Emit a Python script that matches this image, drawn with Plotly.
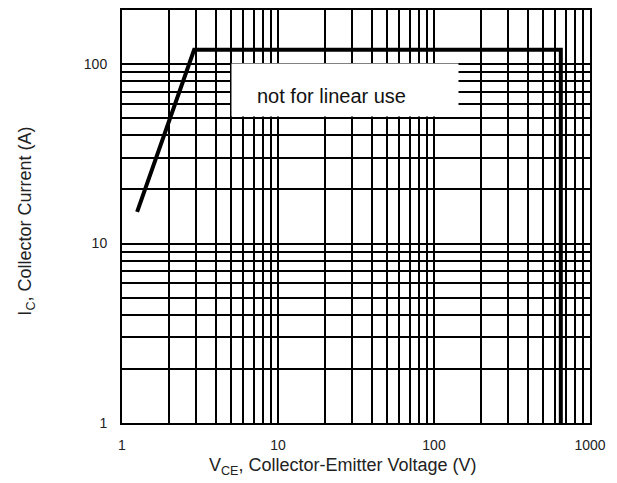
import plotly.graph_objects as go
import numpy as np

# SOA boundary
vce = [1.25, 2.9, 650, 650]
ic = [15, 120, 120, 1]

x_tick_labels = ["1", "10", "100", "1000"]
y_tick_labels = ["1", "10", "100"]

# gridline positions (1..9 per decade)
x_grid = [m * 10 ** d for d in range(3) for m in range(1, 10)] + [1000]
x_text = [str(v) if str(v) in x_tick_labels else "" for v in x_grid]
y_grid = [m * 10 ** d for d in range(2) for m in range(1, 10)] + [100]
y_text = [str(v) if str(v) in y_tick_labels else "" for v in y_grid]

FONT = "Liberation Sans, Arial, sans-serif"

fig = go.Figure()
fig.add_trace(go.Scatter(x=vce, y=ic, mode="lines",
                         line=dict(color="black", width=4),
                         showlegend=False, hoverinfo="skip"))

# white box behind the note
fig.add_annotation(x=np.log10(27), y=np.log10(71.6), xref="x", yref="y",
                   text=" ", showarrow=False, bgcolor="white",
                   width=226, height=52, borderpad=0)
fig.add_annotation(x=np.log10(22.1), y=np.log10(66.3), xref="x", yref="y",
                   text="not for linear use", showarrow=False,
                   font=dict(family=FONT, size=20, color="#111"))

# axis titles
fig.add_annotation(x=0.472, y=-0.105, xref="paper", yref="paper",
                   xanchor="center", yanchor="middle", showarrow=False,
                   text="V<sub>CE</sub>, Collector-Emitter Voltage (V)",
                   font=dict(family=FONT, size=18, color="#222"))
fig.add_annotation(x=-0.203, y=0.49, xref="paper", yref="paper",
                   xanchor="center", yanchor="middle", showarrow=False,
                   textangle=-90,
                   text="I<sub>C</sub>, Collector Current (A)",
                   font=dict(family=FONT, size=18, color="#222"))

axis_common = dict(type="log", showgrid=True, gridcolor="black", gridwidth=2,
                   showline=True, linecolor="black", linewidth=2, mirror=True,
                   ticks="", zeroline=False,
                   tickfont=dict(family=FONT, size=14, color="#222"))

fig.update_xaxes(range=[0, 3], tickvals=x_grid, ticktext=x_text,
                 ticklabelstandoff=8, **axis_common)
fig.update_yaxes(range=[0, np.log10(200)], tickvals=y_grid, ticktext=y_text,
                 ticklabelstandoff=10, **axis_common)

# page body adds an 8px margin; compensate so the plot area lands at 122..590 x 10..423
fig.update_layout(width=609, height=475,
                  margin=dict(l=114, r=27, t=2, b=60, autoexpand=False),
                  plot_bgcolor="white", paper_bgcolor="white")

fig.write_html("out.html")
